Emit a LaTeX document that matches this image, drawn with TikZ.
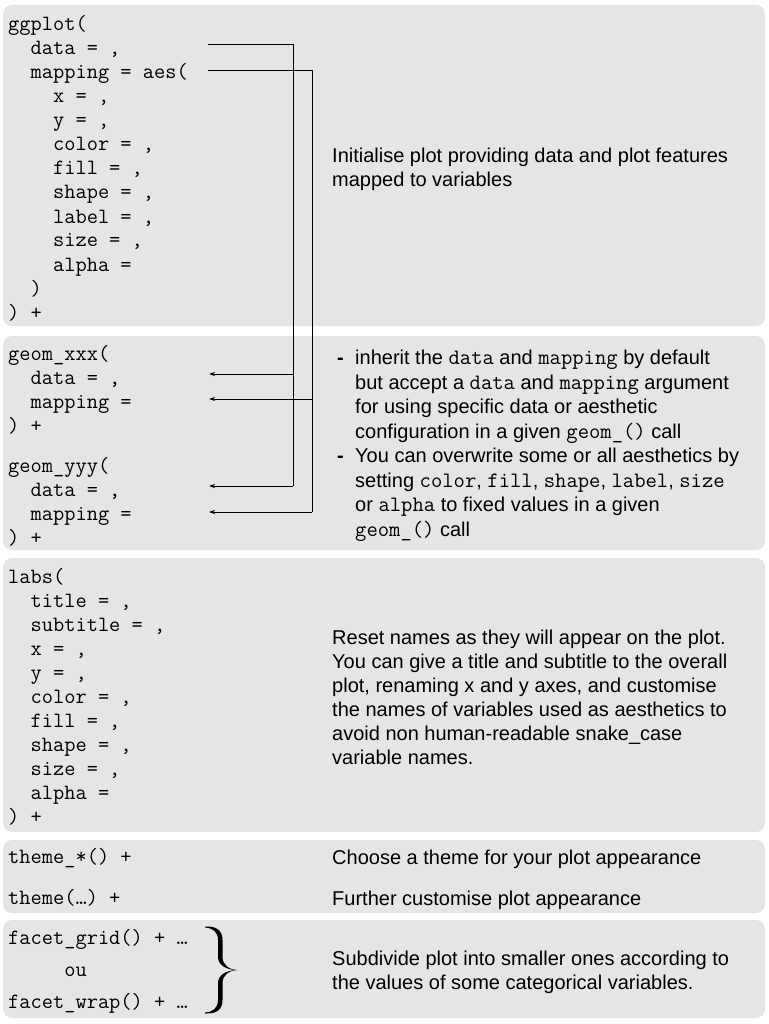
\documentclass[tikz,border=0pt]{standalone}
\usepackage{fontspec}
\setmainfont{Liberation Sans}
\usetikzlibrary{arrows.meta}
\definecolor{boxgray}{RGB}{229,229,229}
\newcommand\mc[1]{{\ttfamily\fontsize{22}{24}\selectfont #1}}
\begin{document}
\begin{tikzpicture}[x=1pt,y=-1pt,
  panel/.style={fill=boxgray, rounded corners=9pt, draw=none},
  code/.style={anchor=base west, inner sep=0pt, font=\ttfamily\fontsize{21.8}{24}\selectfont},
  desc/.style={anchor=base west, inner sep=0pt, font=\fontsize{20}{24}\selectfont},
  link/.style={line width=1pt},
  arr/.style={line width=1pt, -{Stealth[length=6pt,width=4pt]}}]
\useasboundingbox (0,0) rectangle (768,1024);
\fill[white] (0,0) rectangle (768,1024);
% panels
\path[panel] (3,5) rectangle (765,326);
\path[panel] (3,336) rectangle (765,550);
\path[panel] (3,558) rectangle (765,832);
\path[panel] (3,840) rectangle (765,913);
\path[panel] (3,920) rectangle (765,1018);
% ggplot block
\node[code] (g0) at (8,31) {ggplot(};
\node[code] (g1) at (8,55) {~~data = ,};
\node[code] (g2) at (8,79) {~~mapping = aes(};
\node[code] (g3) at (8,103) {~~~~x = ,};
\node[code] (g4) at (8,127) {~~~~y = ,};
\node[code] (g5) at (8,151) {~~~~color = ,};
\node[code] (g6) at (8,175) {~~~~fill = ,};
\node[code] (g7) at (8,199) {~~~~shape = ,};
\node[code] (g8) at (8,223) {~~~~label = ,};
\node[code] (g9) at (8,247) {~~~~size = ,};
\node[code] (g10) at (8,271) {~~~~alpha =};
\node[code] (g11) at (8,295) {~~)};
\node[code] (g12) at (8,319) {) +};
\node[desc] (gd1) at (332,163) {Initialise plot providing data and plot features};
\node[desc] (gd2) at (332,187) {mapped to variables};
% geom block
\node[code] (x0) at (8,360) {geom\_xxx(};
\node[code] (x1) at (8,384) {~~data = ,};
\node[code] (x2) at (8,408) {~~mapping =};
\node[code] (x3) at (8,432) {) +};
\node[code] (y0) at (8,472) {geom\_yyy(};
\node[code] (y1) at (8,496) {~~data = ,};
\node[code] (y2) at (8,520) {~~mapping =};
\node[code] (y3) at (8,544) {) +};
\node[desc] (b1) at (337,364.5) {\textbf{-}};
\node[desc] (t1) at (355,364.5) {inherit the \mc{data} and \mc{mapping} by default};
\node[desc] (t2) at (355,389) {but accept a \mc{data} and \mc{mapping} argument};
\node[desc] (t3) at (355,413.5) {for using specific data or aesthetic};
\node[desc] (t4) at (355,438) {configuration in a given \mc{geom\_()} call};
\node[desc] (b2) at (337,462.5) {\textbf{-}};
\node[desc] (t5) at (355,462.5) {You can overwrite some or all aesthetics by};
\node[desc] (t6) at (355,487) {setting \mc{color}, \mc{fill}, \mc{shape}, \mc{label}, \mc{size}};
\node[desc] (t7) at (355,511.5) {or \mc{alpha} to fixed values in a given};
\node[desc] (t8) at (355,536) {\mc{geom\_()} call};
% connectors
\coordinate (ds) at (208,45);
\coordinate (dk) at (293,45);
\coordinate (dj1) at (293,374);
\coordinate (dj2) at (293,486);
\coordinate (de1) at (209,374);
\coordinate (de2) at (209,486);
\coordinate (ms) at (208,71);
\coordinate (mk) at (312,71);
\coordinate (mj1) at (312,399);
\coordinate (mj2) at (312,512);
\coordinate (me1) at (209,399);
\coordinate (me2) at (209,512);
\draw[link] (ds) -- (dk) -- (dj2);
\draw[arr] (dj1) -- (de1);
\draw[arr] (dj2) -- (de2);
\draw[link] (ms) -- (mk) -- (mj2);
\draw[arr] (mj1) -- (me1);
\draw[arr] (mj2) -- (me2);
% labs block
\node[code] (l0) at (8,583) {labs(};
\node[code] (l1) at (8,607) {~~title = ,};
\node[code] (l2) at (8,631) {~~subtitle = ,};
\node[code] (l3) at (8,655) {~~x = ,};
\node[code] (l4) at (8,679) {~~y = ,};
\node[code] (l5) at (8,703) {~~color = ,};
\node[code] (l6) at (8,727) {~~fill = ,};
\node[code] (l7) at (8,751) {~~shape = ,};
\node[code] (l8) at (8,775) {~~size = ,};
\node[code] (l9) at (8,799) {~~alpha =};
\node[code] (l10) at (8,823) {) +};
\node[desc] (ld1) at (332,644) {Reset names as they will appear on the plot.};
\node[desc] (ld2) at (332,668) {You can give a title and subtitle to the overall};
\node[desc] (ld3) at (332,692) {plot, renaming x and y axes, and customise};
\node[desc] (ld4) at (332,716) {the names of variables used as aesthetics to};
\node[desc] (ld5) at (332,740) {avoid non human-readable snake\_case};
\node[desc] (ld6) at (332,764) {variable names.};
% theme block
\node[code] (th1) at (8,863) {theme\_*() +};
\node[code] (th2) at (8,904) {theme(…) +};
\node[desc] (thd1) at (332,864) {Choose a theme for your plot appearance};
\node[desc] (thd2) at (332,905) {Further customise plot appearance};
% facet block
\node[code] (f1) at (8,944) {facet\_grid() + …};
\node[code] (f2) at (8,976) {~~~~~ou};
\node[code] (f3) at (8,1008) {facet\_wrap() + …};
% curly brace
\fill[black] (205,926.5) .. controls (216,926) and (222.5,930) .. (222.5,940)
  -- (222.5,957) .. controls (222.5,965) and (229,969.5) .. (237.5,970)
  .. controls (229,970.5) and (222.5,975) .. (222.5,983)
  -- (222.5,1000) .. controls (222.5,1010) and (216,1014) .. (205,1013.5)
  -- (205,1012.5) .. controls (213,1012) and (218,1008) .. (218,1000)
  -- (218,983) .. controls (218,975) and (226,970.5) .. (236,970)
  .. controls (226,969.5) and (218,965) .. (218,957)
  -- (218,940) .. controls (218,932) and (213,928) .. (205,927.5) -- cycle;
\node[desc] (fd1) at (332,965) {Subdivide plot into smaller ones according to};
\node[desc] (fd2) at (332,989) {the values of some categorical variables.};
\end{tikzpicture}
\end{document}
